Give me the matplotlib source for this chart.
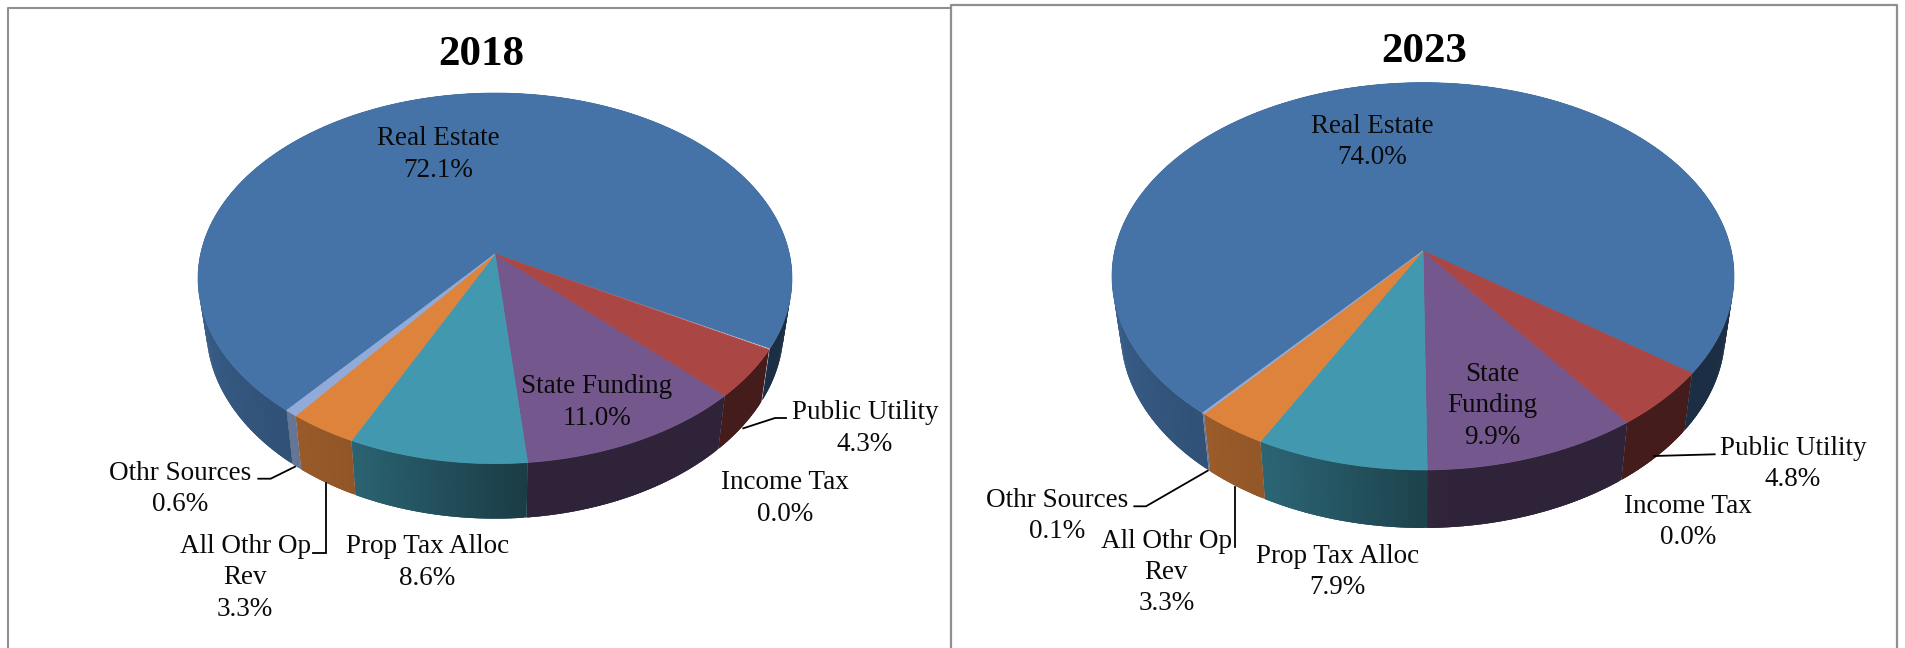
import matplotlib
matplotlib.use('Agg')
import matplotlib.pyplot as plt
from matplotlib.collections import PolyCollection
import numpy as np

plt.rcParams['font.family'] = ['Liberation Serif', 'DejaVu Serif']

# slices run clockwise in this order
categories = ['Public Utility', 'Income Tax', 'State Funding', 'Prop Tax Alloc',
              'All Othr Op Rev', 'Othr Sources', 'Real Estate']
shares_2018 = [4.3, 0.0, 11.0, 8.6, 3.3, 0.6, 72.1]
shares_2023 = [4.8, 0.0, 9.9, 7.9, 3.3, 0.1, 74.0]
colors = ['#AA4643', '#89A54E', '#74578C', '#4298AF', '#DE833C', '#91AAD7', '#4573A8']

names_2018 = ['Public Utility', 'Income Tax', 'State Funding', 'Prop Tax Alloc',
              'All Othr Op\nRev', 'Othr Sources', 'Real Estate']
names_2023 = ['Public Utility', 'Income Tax', 'State\nFunding', 'Prop Tax Alloc',
              'All Othr Op\nRev', 'Othr Sources', 'Real Estate']

label_pos_2018 = [(865, 425.5), (785, 495.5), (597, 399.5), (427.5, 559.5),
                  (245, 575), (180, 486), (438, 151.5)]
label_pos_2023 = [(1793, 461), (1687.7, 519), (1492, 403), (1337.5, 569),
                  (1166.5, 569.5), (1057, 513), (1372, 139.2)]

leaders_2018 = [[(743.3, 428.3), (775, 418), (786, 418)],
                [(295, 466.7), (270.7, 478.7), (258.3, 478.7)],
                [(325.7, 483), (325.7, 552.7), (313.3, 552.7)]]
leaders_2023 = [[(1654, 456), (1714.7, 454.3)],
                [(1207.7, 470.7), (1146, 506.3), (1134.3, 506.3)],
                [(1234.7, 486.7), (1234.7, 546.7)]]

# centre, axes of the tilted disc, perspective, rim height
geom_2018 = dict(cx=495, cy=254, a=294.4, b=182.1, k=0.1313, start=119.4,
                 sx=0.972, depth=55, yf=463.6, dc=0.026)
geom_2023 = dict(cx=1423, cy=250.8, a=308.3, b=190.3, k=0.1316, start=126.4,
                 sx=0.972, depth=58, yf=470, dc=0.01)

# brightness of the rim going round the pie
shade_angle = [100, 175, 205, 225, 280]
shade_value = [0.40, 0.40, 0.65, 0.72, 0.88]


def top_point(theta, g):
    t = np.radians(theta)
    u, v = np.sin(t), np.cos(t)
    w = 1 + g['k'] * v
    return g['cx'] + g['a'] * u / w, g['cy'] - g['b'] * v / w


def bottom_point(x, y, g):
    return g['cx'] + (x - g['cx']) * g['sx'], y + g['depth'] + g['dc'] * (y - g['yf'])


def draw_pie(ax, title, title_xy, shares, names, label_pos, leaders, g):
    edges = g['start'] + np.cumsum([0] + list(shares)) * 3.6

    # rim first, the disc covers whatever is behind it
    # each strip runs on under the next one so no seams show
    quads, quad_colors = [], []
    for i in range(len(shares)):
        if shares[i] == 0:
            continue
        n = max(2, int((edges[i + 1] - edges[i]) * 2))
        angles = np.linspace(edges[i], edges[i + 1], n)
        step = angles[1] - angles[0]
        base = np.array(matplotlib.colors.to_rgb(colors[i]))
        for a0 in angles[:-1]:
            a1 = min(a0 + 2.5 * step, edges[i + 1])
            x0, y0 = top_point(a0, g)
            x1, y1 = top_point(a1, g)
            quads.append([(x0, y0), (x1, y1), bottom_point(x1, y1, g), bottom_point(x0, y0, g)])
            mid = (a0 + 0.5 * step - 90) % 360 + 90
            quad_colors.append(base * np.interp(mid, shade_angle, shade_value))
    ax.add_collection(PolyCollection(quads, facecolors=quad_colors, edgecolors='none'))

    # biggest slice first so the small ones sit cleanly on top
    for i in np.argsort(shares)[::-1]:
        if shares[i] == 0:
            continue
        angles = np.linspace(edges[i], edges[i + 1], max(3, int((edges[i + 1] - edges[i]) * 2)))
        x, y = top_point(angles, g)
        pts = [(g['cx'], g['cy'])] + list(zip(x, y))
        ax.add_patch(plt.Polygon(pts, closed=True, facecolor=colors[i], edgecolor=colors[i], linewidth=0.5))

    for line in leaders:
        xs, ys = zip(*line)
        ax.plot(xs, ys, color='black', lw=1.3, solid_joinstyle='miter')

    for name, v, (x, y) in zip(names, shares, label_pos):
        ax.text(x, y + 3, f'{name}\n{v:.1f}%', ha='center', va='center', fontsize=19.5,
                linespacing=1.32, color='#0A0A0A')

    ax.text(title_xy[0], title_xy[1] + 4.5, title, ha='center', va='center', fontsize=31,
            fontweight='bold', color='black')


fig = plt.figure(figsize=(19.05, 6.48), dpi=100)
ax = fig.add_axes([0, 0, 1, 1])
ax.set_xlim(0, 1905)
ax.set_ylim(648, 0)
ax.axis('off')

# panel frames
frame = '#8F8F8F'
ax.plot([8, 8, 951], [648, 7.5, 7.5], color=frame, lw=1.5)
ax.plot([951, 951, 1897, 1897], [648, 5, 5, 648], color=frame, lw=1.6)

draw_pie(ax, '2018', (481, 50.4), shares_2018, names_2018, label_pos_2018, leaders_2018, geom_2018)
draw_pie(ax, '2023', (1424, 47.5), shares_2023, names_2023, label_pos_2023, leaders_2023, geom_2023)

plt.savefig('out.png', dpi=100)
